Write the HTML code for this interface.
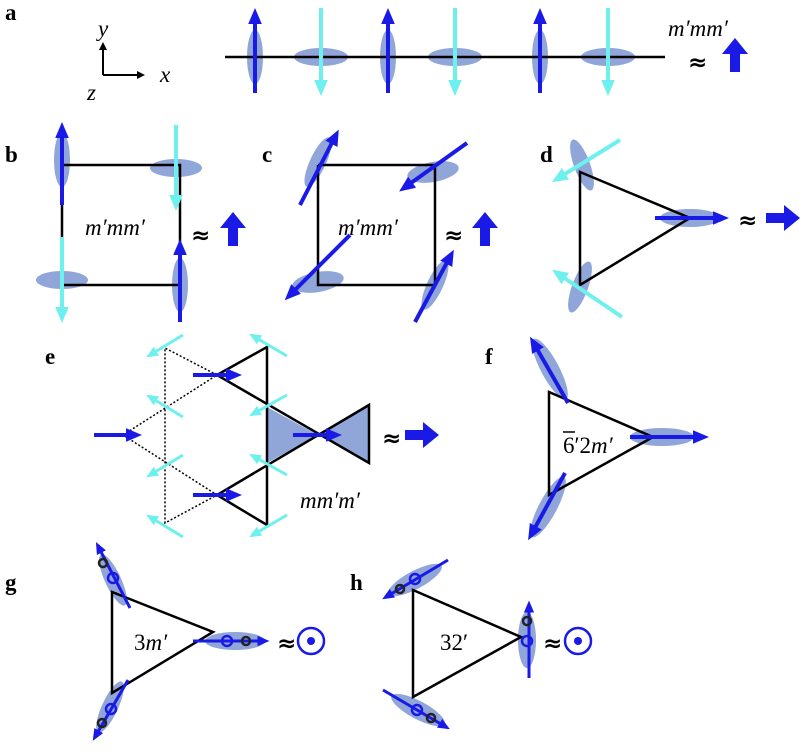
<!DOCTYPE html>
<html><head><style>body{margin:0;background:#fff}svg{display:block}
text{font-family:"Liberation Serif",serif;font-size:23px}
.b{font-weight:bold}.i{font-style:italic}</style></head><body>
<svg width="811" height="755" viewBox="0 0 811 755" xmlns="http://www.w3.org/2000/svg">
<defs>
<marker id="hb" markerWidth="4" markerHeight="4" refX="2.5" refY="2" orient="auto" markerUnits="strokeWidth"><path d="M0,0.3 L4,2 L0,3.7 Z" fill="#1a1ae6"/></marker>
<marker id="hc" markerWidth="4" markerHeight="4" refX="2.5" refY="2" orient="auto" markerUnits="strokeWidth"><path d="M0,0.3 L4,2 L0,3.7 Z" fill="#6ef0ee"/></marker>
<marker id="hk" markerWidth="8" markerHeight="8" refX="6" refY="4" orient="auto" markerUnits="userSpaceOnUse"><path d="M0,0 L8,4 L0,8 Z" fill="#000"/></marker>
</defs>
<g fill="#90a6d8">
<ellipse cx="255" cy="57" rx="8" ry="27"/><ellipse cx="321" cy="57" rx="27" ry="9"/>
<ellipse cx="388" cy="57" rx="8" ry="27"/><ellipse cx="455" cy="57" rx="27" ry="9"/>
<ellipse cx="540" cy="57" rx="8" ry="27"/><ellipse cx="608" cy="57" rx="27" ry="9"/>
<ellipse cx="62" cy="160" rx="8" ry="27"/><ellipse cx="176" cy="168" rx="26" ry="9"/>
<ellipse cx="62" cy="280" rx="26" ry="9"/><ellipse cx="180" cy="285" rx="8" ry="27"/>
<ellipse cx="318" cy="162" rx="8" ry="27" transform="rotate(25 318 162)"/>
<ellipse cx="433" cy="172" rx="26" ry="10" transform="rotate(-10 433 172)"/>
<ellipse cx="318" cy="282" rx="26" ry="10" transform="rotate(-10 318 282)"/>
<ellipse cx="435" cy="285" rx="8" ry="27" transform="rotate(25 435 285)"/>
<ellipse cx="582" cy="165" rx="8" ry="27" transform="rotate(-20 582 165)"/>
<ellipse cx="580" cy="287" rx="8" ry="27" transform="rotate(20 580 287)"/>
<ellipse cx="690" cy="218" rx="30" ry="9"/>
<polygon points="267,407 267,463 318,435"/><polygon points="318,435 369,405 369,463"/>
<ellipse cx="550" cy="369" rx="9" ry="34" transform="rotate(-28 550 369)"/>
<ellipse cx="662" cy="437" rx="32" ry="9"/>
<ellipse cx="548" cy="507" rx="9" ry="34" transform="rotate(28 548 507)"/>
<ellipse cx="113" cy="580" rx="8" ry="28" transform="rotate(-25 113 580)"/>
<ellipse cx="235" cy="641" rx="30" ry="9"/>
<ellipse cx="110" cy="707" rx="8" ry="28" transform="rotate(25 110 707)"/>
<ellipse cx="415" cy="580" rx="30" ry="9" transform="rotate(-28 415 580)"/>
<ellipse cx="527" cy="640" rx="9" ry="28"/>
<ellipse cx="418" cy="710" rx="30" ry="9" transform="rotate(28 418 710)"/>
</g>
<g stroke="#000" stroke-width="2.5" fill="none">
<line x1="225" y1="57" x2="665" y2="57"/>
<polyline points="62,165 180,165 180,285 62,285 62,165"/>
<polyline points="318,165 435,165 435,285 318,285 318,165"/>
<polygon points="580,172 580,285 690,218"/>
<polyline points="217,375 267,347 267,525 217,495 369,405 369,463 217,375"/>
<polygon points="549,392 549,495 653,437"/>
<polygon points="112,592 112,693 213,632"/>
<polygon points="413,590 413,697 521,637"/>
</g>
<g stroke="#000" stroke-width="1.5" stroke-dasharray="2,2" fill="none">
<polyline points="217,375 165,348 165,523 217,495 123,435 217,375"/>
</g>
<g stroke="#000" stroke-width="2"><line x1="103" y1="75" x2="103" y2="44" marker-end="url(#hk)"/><line x1="103" y1="75" x2="143" y2="75" marker-end="url(#hk)"/></g>
<g stroke="#1a1ae6" stroke-width="4" marker-end="url(#hb)">
<line x1="255" y1="93" x2="255" y2="14"/><line x1="388" y1="93" x2="388" y2="14"/><line x1="540" y1="93" x2="540" y2="14"/>
<line x1="62" y1="205" x2="62" y2="128"/><line x1="180" y1="322" x2="180" y2="245"/>
<line x1="300" y1="205" x2="336" y2="135"/><line x1="467" y1="143" x2="404" y2="188"/>
<line x1="350" y1="235" x2="289" y2="296"/><line x1="415" y1="322" x2="451" y2="255"/>
<line x1="655" y1="218" x2="723" y2="218"/>
<line x1="94" y1="435" x2="136" y2="435"/><line x1="193" y1="375" x2="236" y2="375"/>
<line x1="193" y1="495" x2="236" y2="495"/><line x1="293" y1="435" x2="336" y2="435"/>
<line x1="568" y1="403" x2="533" y2="342"/><line x1="630" y1="437" x2="703" y2="437"/>
<line x1="565" y1="473" x2="531" y2="535"/>
</g>
<g stroke="#1a1ae6" stroke-width="3" marker-end="url(#hb)">
<line x1="130" y1="608" x2="98" y2="546"/><line x1="193" y1="641" x2="265" y2="641"/><line x1="128" y1="680" x2="95" y2="737"/>
<line x1="448" y1="560" x2="386" y2="597"/><line x1="529" y1="678" x2="529" y2="605"/><line x1="383" y1="690" x2="446" y2="727"/>
</g>
<g stroke="#6ef0ee" stroke-width="4" marker-end="url(#hc)">
<line x1="321" y1="8" x2="321" y2="90"/><line x1="455" y1="8" x2="455" y2="90"/><line x1="608" y1="8" x2="608" y2="90"/>
<line x1="176" y1="125" x2="176" y2="205"/><line x1="62" y1="237" x2="62" y2="317"/>
<line x1="620" y1="140" x2="557" y2="179"/><line x1="622" y1="317" x2="557" y2="273"/>
</g>
<g stroke="#6ef0ee" stroke-width="3" marker-end="url(#hc)">
<line x1="183" y1="335" x2="150" y2="355"/><line x1="183" y1="417" x2="150" y2="397"/>
<line x1="183" y1="455" x2="150" y2="475"/><line x1="183" y1="537" x2="150" y2="517"/>
<line x1="287" y1="356" x2="253" y2="336"/><line x1="287" y1="395" x2="253" y2="414"/>
<line x1="287" y1="475" x2="253" y2="456"/><line x1="287" y1="515" x2="253" y2="535"/>
</g>
<g fill="#1a1ae6">
<path d="M730,72 h10 v-18 h8 l-13,-16 l-13,16 h8 z"/>
<path d="M228,246 h10 v-18 h8 l-13,-16 l-13,16 h8 z"/>
<path d="M480,246 h10 v-18 h8 l-13,-16 l-13,16 h8 z"/>
<path d="M766,213 h18 v-8 l16,13 l-16,13 v-8 h-18 z"/>
<path d="M405,430 h18 v-8 l16,13 l-16,13 v-8 h-18 z"/>
</g>
<g fill="none" stroke="#1a1ae6" stroke-width="2.5">
<circle cx="113" cy="578" r="5"/><circle cx="227" cy="641" r="5"/><circle cx="111" cy="709" r="5"/>
<circle cx="415" cy="579" r="5"/><circle cx="527" cy="641" r="5"/><circle cx="417" cy="710" r="5"/>
<circle cx="311" cy="641" r="13"/><circle cx="578" cy="641" r="13"/>
</g>
<g fill="#1a1ae6"><circle cx="311" cy="641" r="4"/><circle cx="578" cy="641" r="4"/></g>
<g fill="none" stroke="#222" stroke-width="2.5">
<circle cx="103" cy="563" r="4"/><circle cx="246" cy="641" r="4"/><circle cx="102" cy="723" r="4"/>
<circle cx="400" cy="589" r="4"/><circle cx="527" cy="621" r="4"/><circle cx="431" cy="718" r="4"/>
</g>
<text x="5" y="20" class="b">a</text><text x="5" y="162" class="b">b</text><text x="262" y="162" class="b">c</text>
<text x="540" y="162" class="b">d</text><text x="45" y="364" class="b">e</text><text x="485" y="364" class="b">f</text>
<text x="5" y="590" class="b">g</text><text x="350" y="590" class="b">h</text>
<text x="98" y="36" class="i" font-size="18">y</text><text x="160" y="82" class="i" font-size="18">x</text><text x="87" y="100" class="i" font-size="18">z</text>
<text x="668" y="36" class="i">m′mm′</text>
<text x="85" y="235" class="i">m′mm′</text><text x="338" y="235" class="i">m′mm′</text>
<text x="300" y="508" class="i">mm′m′</text>
<text x="563" y="453">6′2<tspan class="i">m′</tspan></text>
<line x1="563" y1="432" x2="575" y2="432" stroke="#000" stroke-width="1.5"/>
<text x="134" y="650">3<tspan class="i">m′</tspan></text>
<text x="440" y="650">32′</text>
<g font-family="DejaVu Sans, sans-serif" font-size="24" font-weight="bold">
<text x="688" y="70" style="font-family:'DejaVu Sans',sans-serif">≈</text><text x="191" y="243" style="font-family:'DejaVu Sans',sans-serif">≈</text><text x="444" y="243" style="font-family:'DejaVu Sans',sans-serif">≈</text>
<text x="738" y="228" style="font-family:'DejaVu Sans',sans-serif">≈</text><text x="382" y="446" style="font-family:'DejaVu Sans',sans-serif">≈</text><text x="277" y="651" style="font-family:'DejaVu Sans',sans-serif">≈</text><text x="543" y="651" style="font-family:'DejaVu Sans',sans-serif">≈</text>
</g>
</svg>
</body></html>
